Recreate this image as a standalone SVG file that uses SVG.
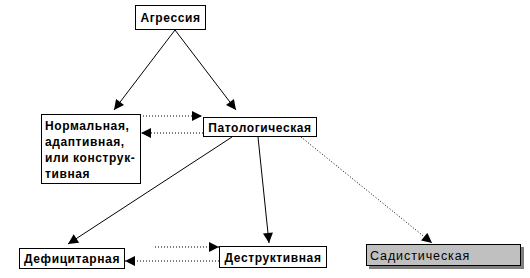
<svg xmlns="http://www.w3.org/2000/svg" width="530" height="278" viewBox="0 0 530 278">
<style>
.box{fill:#fff;stroke:#000;stroke-width:1}
.t{font-family:"Liberation Sans",Arial,sans-serif;font-size:12px;font-weight:bold;letter-spacing:0.6px;fill:#000}
.tr{font-family:"Liberation Sans",Arial,sans-serif;font-size:12.5px;letter-spacing:0.9px;fill:#000}
.ln{stroke:#000;stroke-width:1;fill:none}
.dot{stroke:#000;stroke-width:1;fill:none;stroke-dasharray:1 2}
</style>
<defs>
<marker id="ah" viewBox="0 0 10 10" refX="10" refY="5" markerWidth="11" markerHeight="10" markerUnits="userSpaceOnUse" orient="auto">
<path d="M0,0 L10,5 L0,10 z" fill="#000"/>
</marker>
</defs>
<rect width="530" height="278" fill="#fff"/>
<g id="connectors">
<line class="ln" x1="175" y1="30" x2="114" y2="110" marker-end="url(#ah)"/>
<line class="ln" x1="175" y1="30" x2="236" y2="110" marker-end="url(#ah)"/>
<line class="dot" x1="140" y1="116" x2="202" y2="116" marker-end="url(#ah)"/>
<line class="dot" x1="203" y1="133" x2="141" y2="133" marker-end="url(#ah)"/>
<line class="ln" x1="232" y1="137" x2="68" y2="244" marker-end="url(#ah)"/>
<line class="ln" x1="258" y1="137" x2="269" y2="243" marker-end="url(#ah)"/>
<line class="dot" x1="301" y1="137" x2="432" y2="243" marker-end="url(#ah)"/>
<line class="dot" x1="155" y1="247" x2="219" y2="247" marker-end="url(#ah)"/>
<line class="dot" x1="219" y1="261" x2="125" y2="261" marker-end="url(#ah)"/>
</g>
<g id="agressiya">
<rect class="box" x="135.5" y="5.5" width="70" height="24"/>
<text class="t" x="170.5" y="22" text-anchor="middle">Агрессия</text>
</g>
<g id="normalnaya">
<rect class="box" x="41.5" y="114.5" width="99" height="69"/>
<text class="t" x="45" y="130">Нормальная,</text>
<text class="t" x="45" y="146">адаптивная,</text>
<text class="t" x="45" y="162">или конструк-</text>
<text class="t" x="45" y="178">тивная</text>
</g>
<g id="patologicheskaya">
<rect class="box" x="203.5" y="117.5" width="113" height="19"/>
<text class="t" x="260" y="131.5" text-anchor="middle">Патологическая</text>
</g>
<g id="deficitarnaya">
<rect class="box" x="19.5" y="248.5" width="105" height="20"/>
<text class="t" x="72" y="262.5" text-anchor="middle">Дефицитарная</text>
</g>
<g id="destruktivnaya">
<rect class="box" x="219.5" y="246.5" width="107" height="21"/>
<text class="t" x="273" y="261.5" text-anchor="middle">Деструктивная</text>
</g>
<g id="sadisticheskaya">
<rect x="369" y="247" width="155" height="22" fill="#808080"/>
<rect x="366.5" y="244.5" width="154" height="21" fill="#c0c0c0" stroke="#000" stroke-width="1"/>
<text class="tr" x="370" y="259.5">Садистическая</text>
</g>
</svg>
